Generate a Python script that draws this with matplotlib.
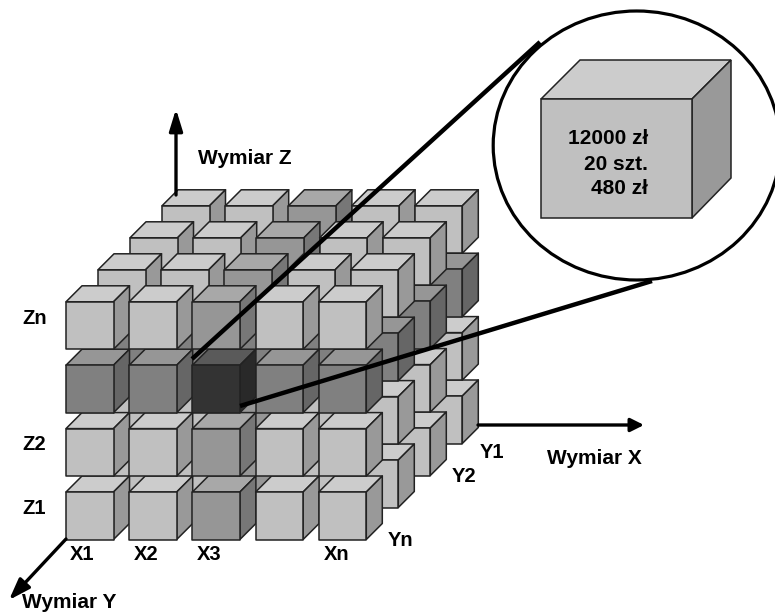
import matplotlib
matplotlib.use('Agg')
import matplotlib.pyplot as plt
from matplotlib.patches import Polygon, Ellipse

plt.rcParams['font.family'] = ['Liberation Sans', 'DejaVu Sans']

# colour groups of the cells: 0 light, 1 medium, 2 dark, 3 selected
# rows run from Z1 (bottom) to Zn (top), columns X1..Xn
cell_shades = [
    [0, 0, 1, 0, 0],
    [0, 0, 1, 0, 0],
    [2, 2, 2, 2, 2],
    [0, 0, 1, 0, 0],
]
selected_cell = (2, 2, 0)  # row, column, layer (0 = Yn, front)
n_layers = 4

# front, top, side
palette = {
    0: ('#c0c0c0', '#cccccc', '#999999'),
    1: ('#969696', '#a8a8a8', '#777777'),
    2: ('#808080', '#969696', '#666666'),
    3: ('#333333', '#5a5a5a', '#292929'),
}

x_labels = ['X1', 'X2', 'X3', 'Xn']
x_label_pos = [70, 134, 197, 324]
y_labels = ['Y1', 'Y2', 'Yn']
y_label_pos = [(480, 452), (452, 476), (388, 540)]
z_labels = ['Zn', 'Z2', 'Z1']
z_label_pos = [318, 445, 508]
detail_lines = ['12000 zł', '20 szt.', '480 zł']
detail_line_y = [139, 164, 189]

EDGE = '#222222'


def draw_cube(ax, x, y, w, h, d, colors, lw=1.1):
    front, top, side = colors
    ax.add_patch(Polygon([(x, y), (x + w, y), (x + w + d, y - d), (x + d, y - d)],
                         fc=top, ec=EDGE, lw=lw, joinstyle='round'))
    ax.add_patch(Polygon([(x + w, y), (x + w + d, y - d), (x + w + d, y + h - d), (x + w, y + h)],
                         fc=side, ec=EDGE, lw=lw, joinstyle='round'))
    ax.add_patch(Polygon([(x, y), (x + w, y), (x + w, y + h), (x, y + h)],
                         fc=front, ec=EDGE, lw=lw, joinstyle='round'))


def arrow(ax, start, end, head_len, head_half):
    # head sizes in points, mutation_scale of 1 keeps them literal
    style = f'-|>,head_length={head_len},head_width={head_half}'
    ax.annotate('', xy=end, xytext=start,
                arrowprops=dict(arrowstyle=style, lw=2.4, color='black',
                                shrinkA=0, shrinkB=0, mutation_scale=1))


fig = plt.figure(figsize=(7.75, 6.12), dpi=100)
ax = fig.add_axes([0, 0, 1, 1])
ax.set_xlim(0, 775)
ax.set_ylim(612, 0)
ax.axis('off')

# axes arrows sit behind the cubes
arrow(ax, (176, 195), (176, 109), 13, 4)
arrow(ax, (478, 425), (644, 425), 8, 4)

# back layer first, bottom row first
for layer in range(n_layers - 1, -1, -1):
    for row in range(len(cell_shades)):
        for col in range(len(cell_shades[row])):
            shade = cell_shades[row][col]
            if (row, col, layer) == selected_cell:
                shade = 3
            px = 66 + col * 63.2 + layer * 32
            py = 492 - row * 63.4 - layer * 32
            draw_cube(ax, px, py, 47.5, 47.5, 16, palette[shade])

arrow(ax, (66, 539), (9, 600), 13, 4.5)

# zoom lens
ax.add_patch(Ellipse((636.7, 145.5), 287, 269, fc='white', ec='black', lw=2.3, zorder=5))
big = [Polygon([(541, 99), (692, 99), (731, 60), (580, 60)], fc=palette[0][1]),
       Polygon([(692, 99), (731, 60), (731, 178), (692, 218)], fc=palette[0][2]),
       Polygon([(541, 99), (692, 99), (692, 218), (541, 218)], fc=palette[0][0])]
for p in big:
    p.set(ec=EDGE, lw=1.1, zorder=6)
    ax.add_patch(p)

ax.plot([192, 540], [359, 42], color='black', lw=3.2, zorder=7, solid_capstyle='butt')
ax.plot([240, 652], [406, 281], color='black', lw=3.2, zorder=7, solid_capstyle='butt')

tkw = dict(fontweight='bold', color='black', va='center', zorder=8)
for label, px in zip(x_labels, x_label_pos):
    ax.text(px, 555, label, ha='left', fontsize=14.5, **tkw)
for label, (px, py) in zip(y_labels, y_label_pos):
    ax.text(px, py, label, ha='left', fontsize=14.5, **tkw)
for label, py in zip(z_labels, z_label_pos):
    ax.text(22, py, label, ha='left', fontsize=14.5, **tkw)
for label, py in zip(detail_lines, detail_line_y):
    ax.text(648, py, label, ha='right', fontsize=15, **tkw)

ax.text(198, 158, 'Wymiar Z', ha='left', fontsize=15, **tkw)
ax.text(547, 459, 'Wymiar X', ha='left', fontsize=15, **tkw)
ax.text(22, 603, 'Wymiar Y', ha='left', fontsize=15, **tkw)

fig.savefig('out.png', dpi=100)
